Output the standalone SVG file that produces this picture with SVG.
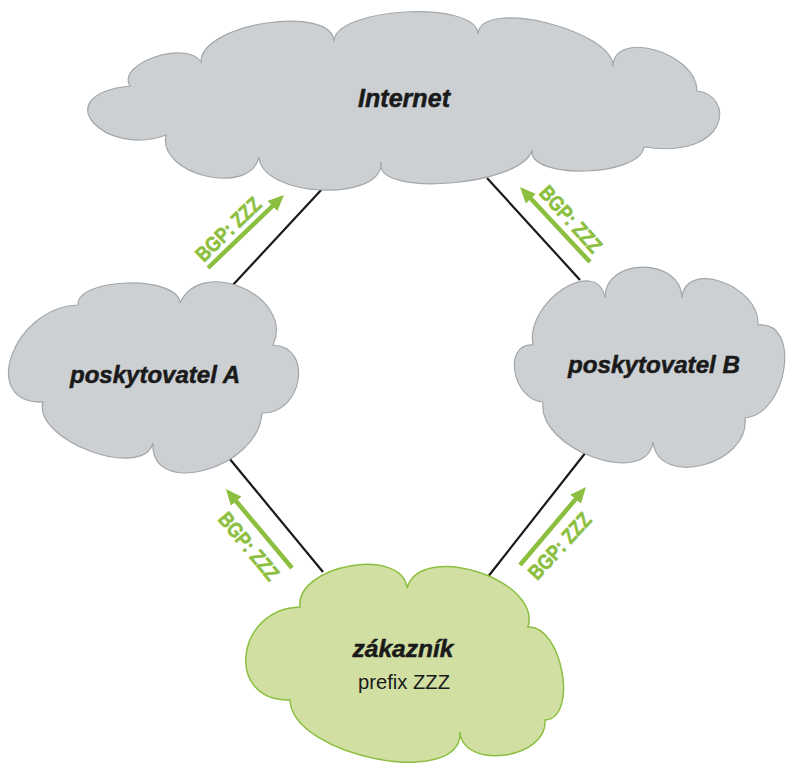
<svg xmlns="http://www.w3.org/2000/svg" width="786" height="763" viewBox="0 0 786 763">
<style>
.gray{fill:#cdd0d3;stroke:#a3a6a9;stroke-width:1.2}
.green{fill:#d1dfa3;stroke:#8cbf3f;stroke-width:1.5}
.conn{stroke:#1a1a1a;stroke-width:2.2;fill:none}
.arr{stroke:#8cbf3f;stroke-width:4.5;fill:none;marker-end:url(#ah)}
.lbl{font-family:"Liberation Sans",Arial,sans-serif;font-weight:bold;font-size:21px;fill:#8cbf3f;stroke:#8cbf3f;stroke-width:0.6;text-anchor:middle}
.name{font-family:"Liberation Sans",Arial,sans-serif;font-weight:bold;font-style:italic;fill:#1a1a1a;stroke:#1a1a1a;stroke-width:0.5;text-anchor:middle}
.sub{font-family:"Liberation Sans",Arial,sans-serif;fill:#1a1a1a;text-anchor:middle;font-size:21px}
</style>
<defs>
<marker id="ah" markerUnits="userSpaceOnUse" markerWidth="16" markerHeight="14" refX="6" refY="7" orient="auto">
<path d="M0,0 L16,7 L0,14 Z" fill="#8cbf3f"/>
</marker>
</defs>
<rect width="786" height="763" fill="#ffffff"/>
<g id="connectors">
<line class="conn" x1="323" y1="188" x2="232" y2="286"/>
<line class="conn" x1="487" y1="178" x2="580" y2="280"/>
<line class="conn" x1="229" y1="458" x2="323" y2="572"/>
<line class="conn" x1="586" y1="452" x2="487" y2="578"/>
<line class="arr" x1="208" y1="268" x2="276.8" y2="201.9"/>
<line class="arr" x1="590" y1="262" x2="526.8" y2="194.3"/>
<line class="arr" x1="292" y1="568" x2="232.4" y2="496.7"/>
<line class="arr" x1="520" y1="565" x2="579.5" y2="494.6"/>
<text class="lbl" transform="translate(228,229) rotate(-44)" y="7.5" textLength="82" lengthAdjust="spacingAndGlyphs">BGP: ZZZ</text>
<text class="lbl" transform="translate(571,219) rotate(48)" y="7.5" textLength="82" lengthAdjust="spacingAndGlyphs">BGP: ZZZ</text>
<text class="lbl" transform="translate(249,546) rotate(50)" y="7.5" textLength="82" lengthAdjust="spacingAndGlyphs">BGP: ZZZ</text>
<text class="lbl" transform="translate(559.5,546) rotate(-47.5)" y="7.5" textLength="82" lengthAdjust="spacingAndGlyphs">BGP: ZZZ</text>
</g>
<g id="internet">
<path class="gray" d="M130,86 C116,63.3 187,39.3 201,62 C200.3,23.3 333.3,3.3 334,42 C332.7,7.3 476.7,-0.7 478,34 C480,-2.7 615,30.3 613,67 C613,28.3 697,52.3 697,91 C735,95 730,160 644,147 C640,177 528,180 532,150 C523.3,186 372.3,198 381,162 C383.7,202.7 261.7,197.7 259,157 C250.3,197 157.3,175 166,135 C105,158 45,95 130,86 Z"/>
<text class="name" x="404" y="107" font-size="25" textLength="92" lengthAdjust="spacingAndGlyphs">Internet</text>
</g>
<g id="poskytovatelA">
<path class="gray" d="M78,305 C76.7,277 178.7,275 180,303 C202,255 295,297 273,345 C313.7,346.3 302.7,414.3 262,413 C258.7,469 149.7,499 153,443 C142.3,481 32.3,440 43,402 C-21.7,404 13.3,307 78,305 Z"/>
<text class="name" x="155" y="383" font-size="24" textLength="170" lengthAdjust="spacingAndGlyphs">poskytovatel A</text>
</g>
<g id="poskytovatelB">
<path class="gray" d="M605,298 C604.3,256.7 681.3,256.7 682,298 C684.7,258.7 760.7,285.7 758,325 C801.3,320.3 788.3,413.3 745,418 C750.3,464.7 658.3,488.7 653,442 C646.3,488.7 536.3,448.7 543,402 C512.3,400 502.3,343 533,345 C525,301.7 597,254.7 605,298 Z"/>
<text class="name" x="654" y="373" font-size="24" textLength="172" lengthAdjust="spacingAndGlyphs">poskytovatel B</text>
</g>
<g id="zakaznik">
<path class="green" d="M300,607 C295.3,565 402.3,546 407,588 C421,540.7 542,579.7 528,627 C562,625 579,718 545,720 C548.3,758.7 463.3,770.7 460,732 C462.7,789.3 292.7,757.3 290,700 C224.7,702 234.7,609 300,607 Z"/>
<text class="name" x="403" y="657" font-size="24" textLength="101" lengthAdjust="spacingAndGlyphs">zákazník</text>
<text class="sub" x="404" y="689" textLength="92" lengthAdjust="spacingAndGlyphs">prefix ZZZ</text>
</g>
</svg>
